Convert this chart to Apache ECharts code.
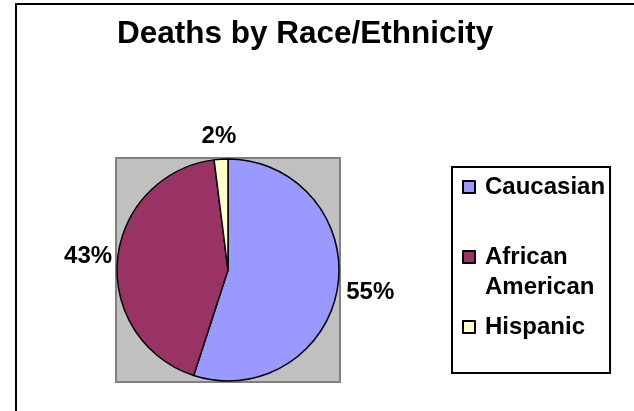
<!DOCTYPE html>
<html>
<head>
<meta charset="utf-8">
<script src="https://cdn.jsdelivr.net/npm/echarts@6/dist/echarts.min.js"></script>
<style>
  html, body { margin: 0; padding: 0; background: #fff; }
  #chart { width: 634px; height: 411px; }
</style>
</head>
<body>
<div id="chart"></div>
<script>
// data
var races = ['Caucasian', 'African American', 'Hispanic'];
var shares = [55, 43, 2];
var colors = ['#9999FF', '#993366', '#FFFFCC'];

var font = 'Liberation Sans, Arial, sans-serif';
var cx = 228, cy = 270, r = 111;

document.addEventListener('DOMContentLoaded', function() {
    var chart = echarts.init(document.getElementById('chart'));

    var pieData = races.map(function(name, i) {
        return { name: name, value: shares[i], itemStyle: { color: colors[i] } };
    });
    // same values, only used to place the percent labels around the pie
    var labelData = races.map(function(name, i) {
        var item = { name: name, value: shares[i] };
        if (name === 'African American') item.label = { padding: [0, 0, 0, 7] };
        if (name === 'Hispanic') item.label = { lineHeight: 20 };
        return item;
    });

    var option = {
        animation: false,
        backgroundColor: '#fff',
        title: {
            text: 'Deaths by Race/Ethnicity',
            left: 117,
            top: 18,
            padding: 0,
            textStyle: { fontFamily: font, fontSize: 31.5, fontWeight: 'bold', color: '#000' }
        },
        graphic: [
            {
                type: 'rect', z: 0,
                shape: { x: 16, y: 4, width: 700, height: 500 },
                style: { fill: 'none', stroke: '#000', lineWidth: 2 }
            },
            {
                type: 'rect', z: 0,
                shape: { x: cx - r - 1, y: cy - r - 1, width: 2 * r + 2, height: 2 * r + 2 },
                style: { fill: '#C0C0C0', stroke: '#808080', lineWidth: 2 }
            }
        ],
        legend: {
            orient: 'vertical',
            left: 452,
            top: 167,
            data: races,
            padding: [5, 5, 31, 10],
            borderColor: '#000',
            borderWidth: 2,
            itemWidth: 12,
            itemHeight: 12,
            itemGap: 10,
            selectedMode: false,
            icon: 'rect',
            formatter: function(name) {
                return name.indexOf(' ') > 0 ? ' \n' + name.replace(' ', '\n') : name;
            },
            textStyle: {
                fontFamily: font, fontSize: 24, fontWeight: 'bold', color: '#000',
                lineHeight: 30, padding: [0, 0, 0, 5]
            }
        },
        series: [
            {
                type: 'pie',
                center: [cx, cy],
                radius: r,
                startAngle: 90,
                clockwise: true,
                silent: true,
                data: pieData,
                itemStyle: { borderColor: '#000', borderWidth: 1.5 },
                label: { show: false },
                labelLine: { show: false }
            },
            {
                type: 'pie',
                center: [cx, cy],
                radius: [0, 2 * 141],
                startAngle: 90,
                clockwise: true,
                silent: true,
                z: 3,
                data: labelData,
                itemStyle: { color: 'rgba(0,0,0,0)', borderWidth: 0 },
                label: {
                    show: true,
                    position: 'inside',
                    formatter: function(p) {
                        var txt = Math.round(p.percent) + '%';
                        // the small slice's label sits a little lower
                        return p.name === 'Hispanic' ? ' \n' + txt : txt;
                    },
                    fontFamily: font, fontSize: 24, fontWeight: 'bold', color: '#000'
                },
                labelLine: { show: false }
            }
        ]
    };
    chart.setOption(option);
});
</script>
</body>
</html>
